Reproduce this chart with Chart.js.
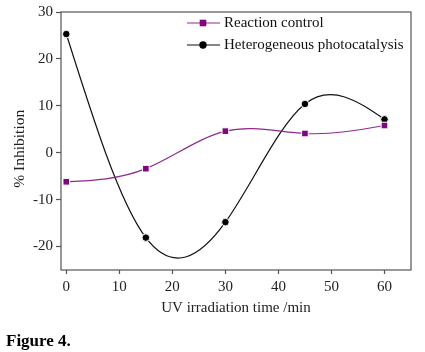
<!DOCTYPE html>
<html lang="en">
<head>
    <meta charset="UTF-8">
    <title>Figure 4</title>
    <script src="https://cdn.jsdelivr.net/npm/chart.js"></script>
    <style>
        body {
            margin: 0;
            background: #fff;
        }
        #wrap {
            position: relative;
            width: 425px;
            height: 352px;
        }
        #caption {
            position: absolute;
            left: 6px;
            top: 331px;
            font-family: 'Liberation Serif', serif;
            font-weight: bold;
            font-size: 17px;
            color: #000;
        }
    </style>
</head>
<body>
    <div id="wrap">
        <canvas id="chart" width="425" height="352"></canvas>
        <div id="caption">Figure 4.</div>
    </div>

    <script>
        // data
        const times = [0, 15, 30, 45, 60];
        const reactionControl = [-6.2, -3.4, 4.6, 4.1, 5.8];
        const photocatalysis = [25.3, -18.1, -14.8, 10.4, 7.1];
        const xTicks = [0, 10, 20, 30, 40, 50, 60];
        const yTicks = [-20, -10, 0, 10, 20, 30];

        const serif = "'Liberation Serif', 'Times New Roman', serif";
        const axisColor = '#555';

        // natural cubic spline tangents -> bezier control points of the line
        function splineControls(pts) {
            const n = pts.length;
            if (n < 3) return;
            const h = [], d = [];
            for (let i = 0; i < n - 1; i++) {
                h.push(pts[i + 1].x - pts[i].x);
                d.push((pts[i + 1].y - pts[i].y) / h[i]);
            }
            // tridiagonal solve for second derivatives, M[0] = M[n-1] = 0
            const M = new Array(n).fill(0);
            const a = [], b = [], c = [], r = [];
            for (let i = 1; i < n - 1; i++) {
                a.push(h[i - 1]);
                b.push(2 * (h[i - 1] + h[i]));
                c.push(h[i]);
                r.push(6 * (d[i] - d[i - 1]));
            }
            const m = b.length;
            for (let i = 1; i < m; i++) {
                const w = a[i] / b[i - 1];
                b[i] -= w * c[i - 1];
                r[i] -= w * r[i - 1];
            }
            const sol = new Array(m);
            sol[m - 1] = r[m - 1] / b[m - 1];
            for (let i = m - 2; i >= 0; i--) sol[i] = (r[i] - c[i] * sol[i + 1]) / b[i];
            for (let i = 0; i < m; i++) M[i + 1] = sol[i];

            for (let i = 0; i < n - 1; i++) {
                const s0 = d[i] - h[i] * (2 * M[i] + M[i + 1]) / 6;
                const s1 = d[i] + h[i] * (M[i] + 2 * M[i + 1]) / 6;
                pts[i].cp2x = pts[i].x + h[i] / 3;
                pts[i].cp2y = pts[i].y + s0 * h[i] / 3;
                pts[i + 1].cp1x = pts[i + 1].x - h[i] / 3;
                pts[i + 1].cp1y = pts[i + 1].y - s1 * h[i] / 3;
            }
        }

        const splinePlugin = {
            id: 'spline',
            beforeDatasetDraw(chart, args) {
                const line = args.meta.dataset;
                line.updateControlPoints(chart.chartArea, 'x');
                splineControls(args.meta.data);
                line._path = undefined;
            }
        };

        // box around the plot area
        const framePlugin = {
            id: 'frame',
            afterDatasetsDraw(chart) {
                const a = chart.chartArea;
                const ctx = chart.ctx;
                ctx.save();
                ctx.strokeStyle = axisColor;
                ctx.lineWidth = 1.2;
                ctx.strokeRect(a.left, a.top, a.right - a.left, a.bottom - a.top);
                ctx.restore();
            }
        };

        // legend inside the plot, line-marker-line symbols
        const legendPlugin = {
            id: 'innerLegend',
            afterDraw(chart) {
                const ctx = chart.ctx;
                const x0 = 187, x1 = 220, xm = 203, tx = 224;
                const rows = [23, 45];
                ctx.save();
                chart.data.datasets.forEach((ds, i) => {
                    const y = rows[i];
                    ctx.strokeStyle = ds.borderColor;
                    ctx.lineWidth = 1.2;
                    ctx.beginPath();
                    ctx.moveTo(x0, y);
                    ctx.lineTo(x1, y);
                    ctx.stroke();
                    ctx.fillStyle = ds.pointBackgroundColor;
                    if (ds.pointStyle === 'rect') {
                        ctx.fillRect(xm - 3.3, y - 3.3, 6.6, 6.6);
                    } else {
                        ctx.beginPath();
                        ctx.arc(xm, y, 3.7, 0, Math.PI * 2);
                        ctx.fill();
                    }
                    ctx.fillStyle = '#111';
                    ctx.font = '15px ' + serif;
                    ctx.textBaseline = 'middle';
                    ctx.fillText(ds.label, tx, y);
                });
                ctx.restore();
            }
        };

        new Chart(document.getElementById('chart'), {
            type: 'line',
            data: {
                datasets: [{
                    label: 'Reaction control',
                    data: times.map((t, i) => ({ x: t, y: reactionControl[i] })),
                    borderColor: '#8e2a8e',
                    borderWidth: 1.2,
                    pointStyle: 'rect',
                    pointRadius: 4.7,
                    pointBackgroundColor: '#7a0a7a',
                    pointBorderColor: '#fff',
                    pointBorderWidth: 1,
                    tension: 0.4
                }, {
                    label: 'Heterogeneous photocatalysis',
                    data: times.map((t, i) => ({ x: t, y: photocatalysis[i] })),
                    borderColor: '#111',
                    borderWidth: 1.2,
                    pointStyle: 'circle',
                    pointRadius: 3.8,
                    pointBackgroundColor: '#000',
                    pointBorderColor: '#fff',
                    pointBorderWidth: 1,
                    tension: 0.4
                }]
            },
            options: {
                responsive: false,
                animation: false,
                layout: {
                    padding: { left: 0, right: 14, top: 11, bottom: 35 }
                },
                plugins: {
                    legend: { display: false },
                    tooltip: { enabled: false }
                },
                scales: {
                    x: {
                        type: 'linear',
                        min: -1,
                        max: 65,
                        afterBuildTicks: s => { s.ticks = xTicks.map(v => ({ value: v })); },
                        afterFit: s => { s.height = 47; },
                        border: { display: false },
                        grid: {
                            drawOnChartArea: false,
                            drawTicks: true,
                            tickLength: 4,
                            tickColor: axisColor,
                            tickWidth: 1.2
                        },
                        ticks: {
                            padding: 4,
                            color: '#222',
                            font: { family: serif, size: 15 },
                            maxRotation: 0
                        },
                        title: {
                            display: true,
                            text: 'UV irradiation time /min',
                            color: '#222',
                            padding: 0,
                            font: { family: serif, size: 15 }
                        }
                    },
                    y: {
                        min: -25,
                        max: 30,
                        afterBuildTicks: s => { s.ticks = yTicks.map(v => ({ value: v })); },
                        afterFit: s => { s.width = 61; },
                        border: { display: false },
                        grid: {
                            drawOnChartArea: false,
                            drawTicks: true,
                            tickLength: 5,
                            tickColor: axisColor,
                            tickWidth: 1.2
                        },
                        ticks: {
                            padding: 3,
                            color: '#222',
                            font: { family: serif, size: 15 }
                        },
                        title: {
                            display: true,
                            text: '% Inhibition    ',
                            color: '#222',
                            padding: { top: 11, bottom: 0 },
                            font: { family: serif, size: 15.5 }
                        }
                    }
                }
            },
            plugins: [splinePlugin, framePlugin, legendPlugin]
        });
    </script>
</body>
</html>
